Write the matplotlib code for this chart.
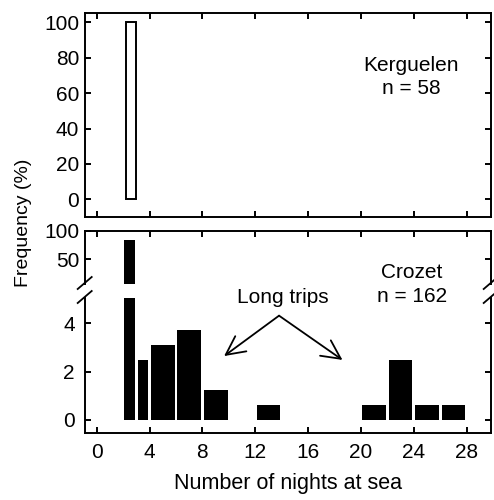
import numpy as np
import matplotlib
matplotlib.use('Agg')
import matplotlib.pyplot as plt

plt.rcParams['font.family'] = ['Liberation Sans', 'DejaVu Sans']
plt.rcParams['font.size'] = 15

# Kerguelen (n = 58)
kerg_lo = [2.25]
kerg_hi = [3.0]
kerg_pct = [100]

# Crozet (n = 162), bins of nights at sea
croz_lo = [2, 3, 4, 6, 8, 12, 20, 22, 24, 26]
croz_hi = [3, 4, 6, 8, 10, 14, 22, 24, 26, 28]
croz_pct = [84.6, 2.47, 3.09, 3.70, 1.23, 0.62, 0.62, 2.47, 0.62, 0.62]

xticks = [0, 4, 8, 12, 16, 20, 24, 28]

W, H = 494, 500
fig = plt.figure(figsize=(W / 100, H / 100), dpi=100)

L = 84.7 / W
Wd = (490.7 - 84.7) / W
ax_top = fig.add_axes([L, 1 - 216.7 / H, Wd, (216.7 - 13.3) / H])
ax_hi = fig.add_axes([L, 1 - 284 / H, Wd, (284 - 231) / H])
ax_lo = fig.add_axes([L, 1 - 433 / H, Wd, (433 - 298) / H])

xlim = (-0.91, 29.82)
lw = 1.4
for ax in (ax_top, ax_hi, ax_lo):
    ax.set_xlim(*xlim)
    ax.set_xticks(xticks)
    for s in ax.spines.values():
        s.set_linewidth(lw)
    ax.tick_params(direction='in', length=4, width=lw, top=True, right=True,
                   labelsize=15, pad=4)

# top panel: Kerguelen
left = np.array(kerg_lo)
wid = np.array(kerg_hi) - left
ax_top.bar(left, kerg_pct, width=wid, align='edge', facecolor='white',
           edgecolor='black', linewidth=1.4)
ax_top.set_ylim(-9.8, 105.1)
ax_top.set_yticks([0, 20, 40, 60, 80, 100])
ax_top.tick_params(labelbottom=False)
ax_top.text(23.8, 69, 'Kerguelen\nn = 58', ha='center', va='center',
            linespacing=1.3)

# bottom panel: Crozet, broken y axis
left = np.array(croz_lo) + 0.1
wid = np.array(croz_hi) - np.array(croz_lo) - 0.2
for ax in (ax_hi, ax_lo):
    ax.bar(left, croz_pct, width=wid, align='edge', color='black')

ax_hi.set_ylim(6.4, 100)
ax_hi.set_yticks([50, 100])
ax_hi.spines['bottom'].set_visible(False)
ax_hi.tick_params(bottom=False, labelbottom=False)

ax_lo.set_ylim(-0.54, 5.04)
ax_lo.set_yticks([0, 2, 4])
ax_lo.spines['top'].set_visible(False)
ax_lo.tick_params(top=False, pad=7)
ax_lo.set_xlabel('Number of nights at sea', labelpad=8, fontsize=15.5)

fig.text(411.7 / W, 1 - 284.5 / H, 'Crozet\nn = 162', ha='center', va='center',
         linespacing=1.3)

ax_lo.text(14.08, 5.05, 'Long trips', ha='center', va='center')
for end in [(9.64, 2.64), (18.6, 2.48)]:
    ax_lo.annotate('', xy=end, xytext=(13.8, 4.31),
                   arrowprops=dict(arrowstyle='->,head_length=0.9,head_width=0.45',
                                   color='black', lw=1.3, shrinkA=0, shrinkB=0))

# break marks on both spines
for xs in (84.7, 490.7):
    for yc in (283, 297):
        fig.add_artist(plt.Line2D([(xs - 7) / W, (xs + 7) / W],
                                  [1 - (yc + 6) / H, 1 - (yc - 6) / H],
                                  color='black', lw=1.3))

fig.text(24 / W, 1 - 223 / H, 'Frequency (%)', rotation=90, ha='center',
         va='center', fontsize=14)

fig.savefig('out.png', dpi=100)
